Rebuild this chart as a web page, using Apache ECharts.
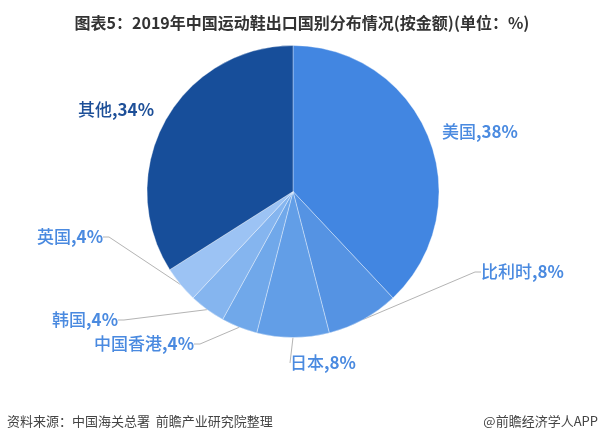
<!DOCTYPE html>
<html><head><meta charset="utf-8">
<script src="https://cdn.jsdelivr.net/npm/echarts@6/dist/echarts.min.js"></script>
<style>html,body{margin:0;padding:0;background:#fff}#c{width:604px;height:443px}</style>
</head><body><div id="c"></div>
<script>
const categories = ['美国', '比利时', '日本', '中国香港', '韩国', '英国', '其他'];
const values = [38, 8, 8, 4, 4, 4, 34];
const titleText = '图表5：2019年中国运动鞋出口国别分布情况(按金额)(单位：%)';
const sourceText = '资料来源：中国海关总署  前瞻产业研究院整理';
const brandText = '@前瞻经济学人APP';

const sliceColors = ['#4286e1', '#5593e3', '#629ee7', '#70a8ea', '#85b5ef', '#9cc3f4', '#174e9a'];
const labelColors = ['#4a8ae0', '#4a8ae0', '#4a8ae0', '#4a8ae0', '#4a8ae0', '#4a8ae0', '#1d4f98'];
const labelPlacement = [
  { x: 442, y: 132, align: 'left' },
  { x: 481, y: 272, align: 'left' },
  { x: 290, y: 363, align: 'left' },
  { x: 194, y: 344, align: 'right' },
  { x: 118, y: 320, align: 'right' },
  { x: 103, y: 237, align: 'right' },
  { x: 154, y: 110, align: 'right' }
];
const FONT = '"Noto Sans CJK SC", "Noto Sans", sans-serif';

const chart = echarts.init(document.getElementById('c'), null, { renderer: 'canvas' });
chart.setOption({
  animation: false,
  backgroundColor: '#fff',
  title: {
    text: titleText,
    left: 'center',
    top: 10,
    textStyle: { fontSize: 16, fontWeight: 'bold', color: '#333', fontFamily: FONT }
  },
  graphic: [
    { type: 'text', left: 7, top: 415, style: { text: sourceText, fill: '#444', font: '13px ' + FONT } },
    { type: 'text', right: 6, top: 415, style: { text: brandText, fill: '#444', font: '13px ' + FONT } }
  ],
  series: [{
    type: 'pie',
    center: [293, 191.5],
    radius: 146,
    startAngle: 90,
    clockwise: true,
    avoidLabelOverlap: false,
    emphasis: { disabled: true },
    itemStyle: { borderColor: 'rgba(255,255,255,0.35)', borderWidth: 1 },
    label: {
      show: true,
      position: 'outside',
      formatter: function (p) { return '{n|' + p.name + '}{v|,' + p.value + '%}'; },
      fontSize: 17,
      fontFamily: FONT,
      rich: {
        n: { fontSize: 17, fontWeight: 500, fontFamily: FONT },
        v: { fontSize: 17, fontWeight: 'bold', fontFamily: FONT }
      }
    },
    labelLine: { show: true, length: 10, length2: 6, lineStyle: { color: '#b4b4b4', width: 1 } },
    labelLayout: function (p) {
      const a = labelPlacement[p.dataIndex];
      return { x: a.x, y: a.y, align: a.align, verticalAlign: 'middle' };
    },
    data: categories.map((name, i) => ({
      name: name,
      value: values[i],
      itemStyle: { color: sliceColors[i] },
      label: { color: labelColors[i] },
      labelLine: { show: i !== 0 && i !== 6 }
    }))
  }]
});
</script></body></html>
